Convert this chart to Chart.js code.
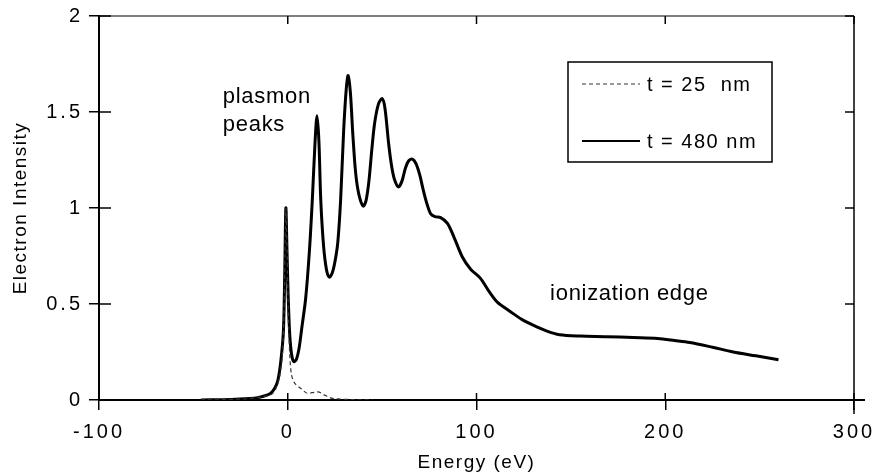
<!DOCTYPE html>
<html>
<head>
<meta charset="utf-8">
<script src="https://cdn.jsdelivr.net/npm/chart.js@4"></script>
<style>
  html, body { margin: 0; padding: 0; background: #fff; }
  canvas { display: block; }
</style>
</head>
<body>
<canvas id="c" width="876" height="472"></canvas>
<script>
// ---- data ----
const thinLabel = 't = 25  nm';
const thinEnergy =    [-46, -30, -20, -12, -8, -5.5, -3.7, -2.5, -1.7, -1, -0.3, 0.3, 1, 1.6, 3, 5, 7, 10.5, 13, 16, 19, 23, 28, 32, 38, 45];
const thinIntensity = [0, 0.003, 0.008, 0.02, 0.035, 0.08, 0.16, 0.3, 0.6, 1.0, 0.75, 0.45, 0.25, 0.16, 0.1, 0.075, 0.06, 0.035, 0.038, 0.042, 0.028, 0.01, 0.005, 0.003, 0.001, 0];

const thickLabel = 't = 480 nm';
const thickEnergy =    [-46, -30, -20, -16, -12, -9, -7, -5.3, -3.7, -2.3, -1.6, -1, -0.4, 0.2, 1, 2, 3.2, 4.5, 6, 7.5, 9.5, 11.5, 13, 14.5, 15.5, 16.5, 17.5, 19, 20.5, 22, 23.5, 25, 26.5, 28, 29.6, 31, 32, 33.2, 34.5, 36, 37.7, 40, 41.5, 43, 44.5, 46, 48, 50, 51.5, 53.4, 55, 56.5, 58.7, 60.5, 62.4, 64, 66, 68, 70, 71.4, 73.5, 75.7, 78, 81, 84.6, 88, 92.5, 97, 102, 107, 111, 118, 124, 130, 137, 144, 155, 169, 183, 196, 205, 213, 225, 236, 248, 260];
const thickIntensity = [0, 0.003, 0.008, 0.012, 0.022, 0.036, 0.06, 0.1, 0.2, 0.36, 0.66, 1.0, 0.78, 0.55, 0.35, 0.24, 0.2, 0.21, 0.27, 0.38, 0.53, 0.78, 1.04, 1.35, 1.48, 1.35, 1.04, 0.8, 0.68, 0.64, 0.66, 0.72, 0.82, 1.04, 1.4, 1.62, 1.69, 1.6, 1.38, 1.18, 1.07, 1.01, 1.04, 1.14, 1.3, 1.44, 1.54, 1.57, 1.52, 1.34, 1.22, 1.15, 1.11, 1.14, 1.21, 1.245, 1.255, 1.23, 1.17, 1.11, 1.03, 0.97, 0.955, 0.95, 0.92, 0.85, 0.745, 0.68, 0.635, 0.56, 0.51, 0.46, 0.42, 0.39, 0.36, 0.34, 0.333, 0.33, 0.325, 0.32, 0.31, 0.3, 0.275, 0.25, 0.23, 0.21];

const xTicks = [-100, 0, 100, 200, 300];
const yTicks = [0, 0.5, 1, 1.5, 2];

const xTitle = 'Energy (eV)';
const yTitle = 'Electron Intensity';
const notePeaks = ['plasmon', 'peaks'];
const notePeaksAt = [-34.4, 1.58];
const noteEdge = 'ionization edge';
const noteEdgeAt = [139, 0.55];

// ---- build ----
const FONT = '"Liberation Sans", Arial, Helvetica, sans-serif';
const toPts = (xs, ys) => xs.map((x, i) => ({ x, y: ys[i] }));

const framePlugin = {
  id: 'frame',
  beforeDraw(chart) { chart.ctx.letterSpacing = '1.5px'; },
  beforeDatasetsDraw(chart) { chart.ctx.letterSpacing = '0px'; },
  afterDatasetsDraw(chart) { chart.ctx.letterSpacing = '3px'; },
  afterDraw(chart) {
    const ctx = chart.ctx;
    ctx.letterSpacing = '0px';
    const { left, right, top, bottom } = chart.chartArea;
    const xs = chart.scales.x, ys = chart.scales.y;
    ctx.save();
    ctx.strokeStyle = '#000';
    ctx.lineCap = 'butt';
    // top & right frame
    ctx.lineWidth = 1.2;
    ctx.beginPath(); ctx.moveTo(left, top); ctx.lineTo(right, top); ctx.stroke();
    ctx.lineWidth = 1.5;
    ctx.beginPath(); ctx.moveTo(right, top); ctx.lineTo(right, bottom + 14); ctx.stroke();
    ctx.lineWidth = 2;
    ctx.beginPath(); ctx.moveTo(right, bottom); ctx.lineTo(right + 11, bottom); ctx.stroke();
    // inward tick marks
    ctx.lineWidth = 1.5;
    xTicks.forEach(v => {
      const px = xs.getPixelForValue(v);
      ctx.beginPath(); ctx.moveTo(px, bottom); ctx.lineTo(px, bottom - 7); ctx.stroke();
      ctx.beginPath(); ctx.moveTo(px, top); ctx.lineTo(px, top + 8); ctx.stroke();
    });
    yTicks.forEach(v => {
      const py = ys.getPixelForValue(v);
      ctx.beginPath(); ctx.moveTo(left, py); ctx.lineTo(left + 12, py); ctx.stroke();
      ctx.beginPath(); ctx.moveTo(right, py); ctx.lineTo(right - 9, py); ctx.stroke();
    });
    // legend
    ctx.lineWidth = 1.5;
    ctx.strokeRect(568, 62, 204, 100);
    const rows = [84, 141];
    chart.data.datasets.forEach((ds, i) => {
      const y = rows[i];
      ctx.save();
      ctx.strokeStyle = ds.borderColor;
      ctx.lineWidth = ds.borderWidth > 2 ? 2.2 : ds.borderWidth;
      ctx.setLineDash(ds.borderDash || []);
      ctx.beginPath(); ctx.moveTo(582, y); ctx.lineTo(640, y); ctx.stroke();
      ctx.restore();
      ctx.fillStyle = '#000';
      ctx.font = '20px ' + FONT;
      ctx.letterSpacing = '1.5px';
      ctx.textAlign = 'left';
      ctx.textBaseline = 'middle';
      ctx.fillText(ds.label, 647, y + 1);
    });
    // annotations
    ctx.font = '22px ' + FONT;
    ctx.letterSpacing = '0.7px';
    ctx.fillStyle = '#000';
    ctx.textAlign = 'left';
    ctx.textBaseline = 'middle';
    const px0 = xs.getPixelForValue(notePeaksAt[0]);
    const py0 = ys.getPixelForValue(notePeaksAt[1]);
    ctx.fillText(notePeaks[0], px0, py0);
    ctx.fillText(notePeaks[1], px0, py0 + 28);
    ctx.fillText(noteEdge, xs.getPixelForValue(noteEdgeAt[0]), ys.getPixelForValue(noteEdgeAt[1]));
    ctx.letterSpacing = '0px';
    ctx.restore();
  }
};

new Chart(document.getElementById('c'), {
  type: 'line',
  data: {
    datasets: [
      {
        label: thinLabel,
        data: toPts(thinEnergy, thinIntensity),
        borderColor: '#333',
        borderWidth: 1.2,
        borderDash: [4, 3],
        pointRadius: 0,
        fill: false,
        cubicInterpolationMode: 'monotone'
      },
      {
        label: thickLabel,
        data: toPts(thickEnergy, thickIntensity),
        borderColor: '#000',
        borderWidth: 3,
        pointRadius: 0,
        fill: false,
        tension: 0.3
      }
    ]
  },
  options: {
    responsive: false,
    animation: false,
    devicePixelRatio: 1,
    layout: { padding: { left: 0, right: 22, top: 16, bottom: 0 } },
    plugins: { legend: { display: false }, tooltip: { enabled: false } },
    scales: {
      x: {
        type: 'linear',
        min: -100, max: 300,
        afterBuildTicks: s => { s.ticks = xTicks.map(v => ({ value: v })); },
        afterFit: s => { s.height = 72; s.paddingLeft = 0; s.paddingRight = 0; },
        ticks: { z: 1, color: '#000', padding: 10, font: { family: FONT, size: 20 }, maxRotation: 0, autoSkip: false, callback: v => String(v) },
        grid: { drawOnChartArea: false, color: '#000', lineWidth: 1.5, tickLength: 10 },
        border: { display: true, color: '#000', width: 2 },
        title: { display: true, text: xTitle, color: '#000', font: { family: FONT, size: 19, lineHeight: 1 }, padding: { top: 0, bottom: 0 } }
      },
      y: {
        type: 'linear',
        min: 0, max: 2,
        afterBuildTicks: s => { s.ticks = yTicks.map(v => ({ value: v })); },
        afterFit: s => { s.width = 99; s.paddingTop = 0; s.paddingBottom = 0; },
        ticks: { z: 1, color: '#000', padding: 6, font: { family: FONT, size: 20 }, callback: v => String(v) },
        grid: { drawOnChartArea: false, color: '#000', lineWidth: 1.5, tickLength: 10 },
        border: { display: true, color: '#000', width: 2 },
        title: { display: true, text: yTitle, color: '#000', font: { family: FONT, size: 19 }, padding: { top: 9, bottom: 0 } }
      }
    }
  },
  plugins: [framePlugin]
});
</script>
</body>
</html>
